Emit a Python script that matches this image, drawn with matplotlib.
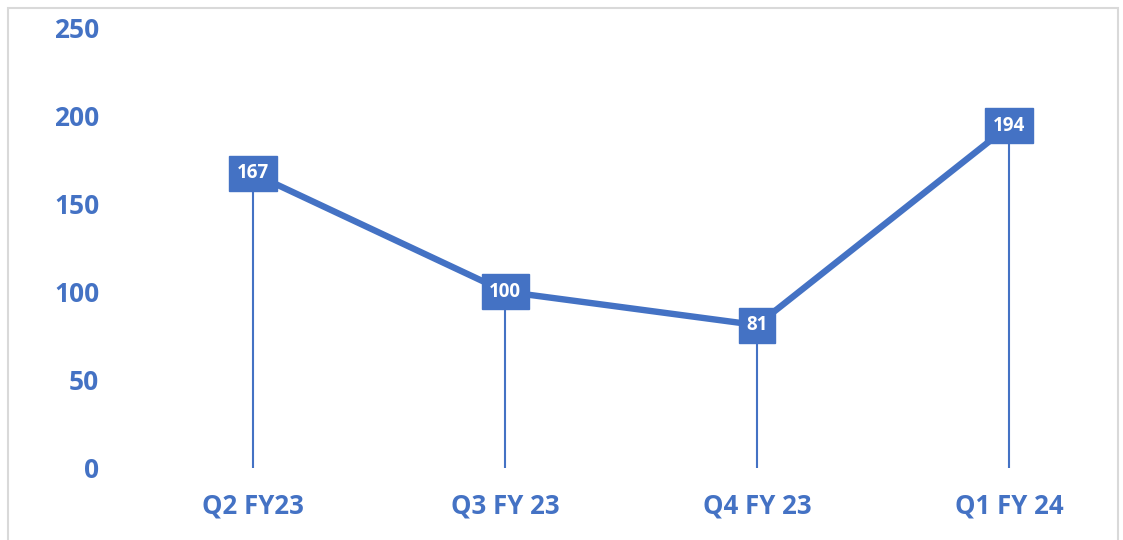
import matplotlib
matplotlib.use("Agg")
import matplotlib.pyplot as plt
from matplotlib.patches import Rectangle

categories = ["Q2 FY23", "Q3 FY 23", "Q4 FY 23", "Q1 FY 24"]
values = [167, 100, 81, 194]
yticks = [0, 50, 100, 150, 200, 250]

BLUE = "#4472C4"
W, H = 1123, 540
fig = plt.figure(figsize=(W / 100, H / 100), dpi=100)
plt.rcParams['font.family'] = ['Open Sans', 'DejaVu Sans']

# chart border
fig.patches.append(Rectangle((8 / W, -0.05), (1118 - 8) / W, (H - 8) / H + 0.05,
                             transform=fig.transFigure, fill=False,
                             edgecolor="#d9d9d9", linewidth=1.5))

ax = fig.add_axes([127 / W, (H - 468) / H, (1118 - 127) / W, (468 - 27) / H])
x = list(range(len(categories)))

ax.vlines(x, 0, values, color=BLUE, linewidth=1.5, zorder=1)
ax.plot(x, values, color=BLUE, linewidth=4.6, solid_capstyle="butt", zorder=2)

for xi, v in zip(x, values):
    ax.text(xi, v, str(v), ha="center", va="center", color="white",
            fontsize=13.5, fontweight="bold", zorder=3,
            bbox=dict(boxstyle="square,pad=0.4", facecolor=BLUE, edgecolor=BLUE))

ax.set_xlim(-0.5, (1118 - 253) / 252)
ax.set_ylim(0, 250)
ax.set_yticks(yticks)
ax.set_yticklabels([str(t) for t in yticks])
ax.set_xticks(x)
ax.set_xticklabels(categories)
ax.tick_params(axis="y", length=0, pad=20, labelsize=19, labelcolor=BLUE)
ax.tick_params(axis="x", length=0, pad=18, labelsize=18.5, labelcolor=BLUE)
for lbl in ax.get_xticklabels() + ax.get_yticklabels():
    lbl.set_fontweight("bold")
for s in ax.spines.values():
    s.set_visible(False)
ax.set_facecolor("none")

fig.savefig("out.png", dpi=100)
